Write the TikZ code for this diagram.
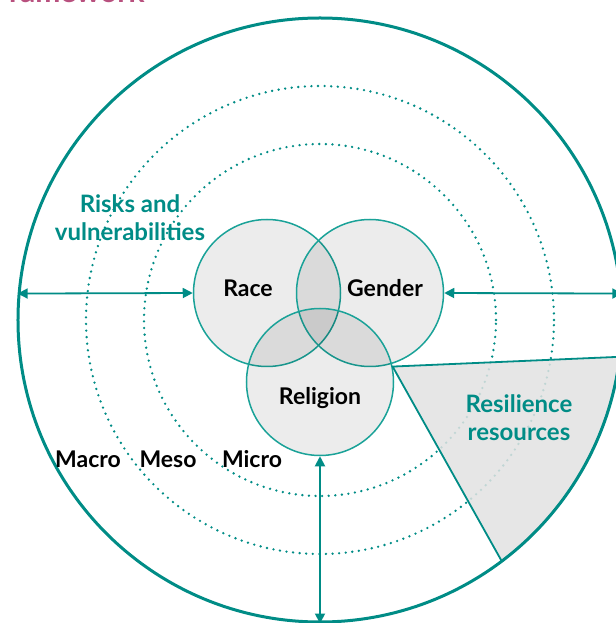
\documentclass[tikz,border=0pt]{standalone}
\usepackage{fontspec}
\setmainfont{Lato}
\usepackage{xcolor}
\usetikzlibrary{arrows.meta,positioning}
\definecolor{frameTeal}{HTML}{008C86}
\definecolor{vennTeal}{HTML}{1AA298}
\definecolor{titlePink}{HTML}{B8507E}
\definecolor{wedgeGrey}{HTML}{E2E2E2}
\tikzset{
  outerRing/.style={
    circle,
    draw=frameTeal,
    line width=3pt,
    minimum size=604pt,
    inner sep=0pt
  },
  levelRing/.style={
    draw=frameTeal,
    line width=2.6pt,
    line cap=round,
    dash pattern=on 0pt off 6.6pt
  },
  venn/.style={
    circle,
    draw=vennTeal,
    line width=1.5pt,
    fill=black,
    fill opacity=0.075,
    text opacity=1,
    minimum size=147pt,
    inner sep=0pt
  },
  vennLabel/.style={
    font=\fontsize{23}{27}\selectfont\bfseries,
    text=black
  },
  levelLabel/.style={
    font=\fontsize{23}{27}\selectfont\bfseries,
    text=black
  },
  tealLabel/.style={
    font=\fontsize{24}{28}\selectfont\bfseries,
    text=frameTeal,
    align=center
  },
  arrow/.style={
    {Triangle[length=10pt,width=10pt]}-{Triangle[length=10pt,width=10pt]},
    line width=1.8pt,
    draw=frameTeal
  },
  wedge/.style={
    draw=frameTeal,
    line width=1.8pt,
    fill=wedgeGrey,
    fill opacity=0.85
  }
}
\begin{document}
\begin{tikzpicture}[x=1pt,y=1pt]
  \useasboundingbox (-320,-303) rectangle (295,320);
  \node[anchor=base east,font=\fontsize{30}{36}\selectfont\bfseries,text=titlePink] (title) at (-172,317) {ramework};
  \draw[levelRing] (0,0) circle[radius=234pt];
  \draw[levelRing] (0,0) circle[radius=176pt];
  \node[venn] (race) at (-53,27) {};
  \node[venn] (gender) at (50,27) {};
  \node[venn] (religion) at (0,-62) {};
  \path[wedge] (religion.12) -- (-7:302) arc[start angle=-7,end angle=-53,radius=302pt] -- cycle;
  \node[outerRing] (outer) at (0,0) {};
  \draw[arrow] (outer.175) -- (race.west);
  \draw[arrow] (gender.east) -- (outer.5);
  \draw[arrow] (religion.south) -- (outer.south);
  \node[vennLabel] (raceText) at (-72,32) {Race};
  \node[vennLabel] (genderText) at (65,32) {Gender};
  \node[vennLabel] (religionText) at (0,-78) {Religion};
  \node[tealLabel] (risks) at (-190,102) {Risks and\\vulnerabilities};
  \node[tealLabel] (resilience) at (199,-98) {Resilience\\resources};
  \node[levelLabel] (macro) at (-232,-139) {Macro};
  \node[levelLabel] (meso) at (-152,-139) {Meso};
  \node[levelLabel] (micro) at (-68,-139) {Micro};
\end{tikzpicture}
\end{document}
